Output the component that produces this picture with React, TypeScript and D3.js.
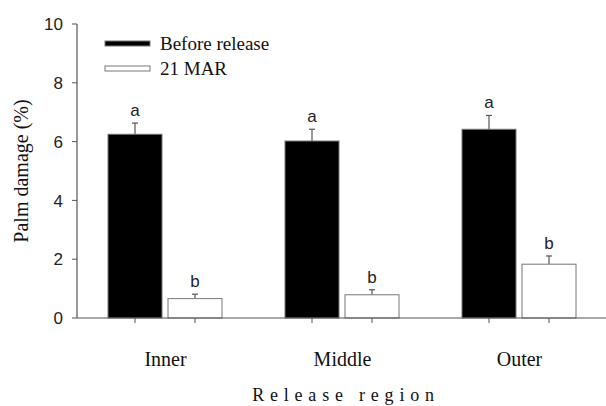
import * as d3 from 'd3';
import React from 'react';

const regions = ['Inner', 'Middle', 'Outer'];
const seriesNames = ['Before release', '21 MAR'];
const beforeValues = [6.25, 6.02, 6.42];
const beforeErrors = [0.38, 0.4, 0.47];
const marValues = [0.66, 0.79, 1.83];
const marErrors = [0.15, 0.17, 0.28];
const beforeLetters = ['a', 'a', 'a'];
const marLetters = ['b', 'b', 'b'];
const yTicks = [0, 2, 4, 6, 8, 10];

const serif = '"Liberation Serif", "Times New Roman", serif';
const sans = '"Liberation Sans", Arial, sans-serif';
const axisColor = '#555';

export default function App() {
    const margin = { top: 24, right: 0, bottom: 88, left: 77 };
    const width = 606;
    const height = 406;
    const innerH = height - margin.top - margin.bottom;

    const x = d3.scaleBand()
        .domain(regions)
        .range([margin.left, 608]);

    const sub = d3.scaleBand()
        .domain(['0', '1'])
        .range([31, x.bandwidth() - 32])
        .paddingInner(0.1);

    const y = d3.scaleLinear()
        .domain([0, 10])
        .range([margin.top + innerH, margin.top]);

    const series = [
        { values: beforeValues, errors: beforeErrors, letters: beforeLetters, fill: '#000' },
        { values: marValues, errors: marErrors, letters: marLetters, fill: '#fff' }
    ];

    return (
        <svg width={width} height={height} style={{ position: 'absolute', left: 0, top: 0, background: '#fff' }}>
            {/* bars */}
            {series.map((s, si) =>
                regions.map((r, i) => {
                    const bx = (x(r) as number) + (sub(String(si)) as number);
                    const bw = sub.bandwidth();
                    const cx = bx + bw / 2;
                    const top = y(s.values[i]);
                    const errTop = y(s.values[i] + s.errors[i]);
                    return (
                        <g key={`${si}-${i}`}>
                            <line x1={cx} x2={cx} y1={top} y2={errTop} stroke={axisColor} strokeWidth={1.2} />
                            <line x1={cx - 3} x2={cx + 3} y1={errTop} y2={errTop} stroke={axisColor} strokeWidth={1.2} />
                            <rect x={bx} y={top} width={bw} height={y(0) - top}
                                fill={s.fill} stroke="#777" strokeWidth={1} />
                            <text x={cx} y={errTop - 7} textAnchor="middle"
                                fontFamily={sans} fontSize={17} fill="#222">{s.letters[i]}</text>
                            <line x1={cx} x2={cx} y1={y(0)} y2={y(0) + 5} stroke={axisColor} strokeWidth={1} />
                        </g>
                    );
                })
            )}

            {/* axes */}
            <line x1={margin.left} x2={margin.left} y1={y(10)} y2={y(0)} stroke={axisColor} strokeWidth={1.2} />
            <line x1={margin.left} x2={606} y1={y(0)} y2={y(0)} stroke={axisColor} strokeWidth={1.2} />
            {yTicks.map(t => (
                <g key={t}>
                    <line x1={margin.left - 5} x2={margin.left} y1={y(t)} y2={y(t)} stroke={axisColor} strokeWidth={1} />
                    <text x={margin.left - 14} y={y(t)} dy="0.36em" textAnchor="end"
                        fontFamily={sans} fontSize={17} fill="#222">{t}</text>
                </g>
            ))}

            {/* category labels */}
            {regions.map(r => (
                <text key={r} x={(x(r) as number) + x.bandwidth() / 2} y={366} textAnchor="middle"
                    fontFamily={serif} fontSize={20} fill="#111">{r}</text>
            ))}

            {/* axis titles */}
            <text x={346} y={401} textAnchor="middle" fontFamily={serif} fontSize={18}
                letterSpacing="5.8px" fill="#111">Release region</text>
            <text transform={`translate(28, ${y(5)}) rotate(-90)`} textAnchor="middle"
                fontFamily={serif} fontSize={20} fill="#111">Palm damage (%)</text>

            {/* legend */}
            <rect x={105} y={41} width={45} height={5} fill="#000" stroke="#777" strokeWidth={1} />
            <text x={160} y={50} fontFamily={serif} fontSize={19} fill="#111">{seriesNames[0]}</text>
            <rect x={105} y={66} width={45} height={5} fill="#fff" stroke="#777" strokeWidth={1} />
            <text x={160} y={75} fontFamily={serif} fontSize={19} fill="#111">{seriesNames[1]}</text>
        </svg>
    );
}
